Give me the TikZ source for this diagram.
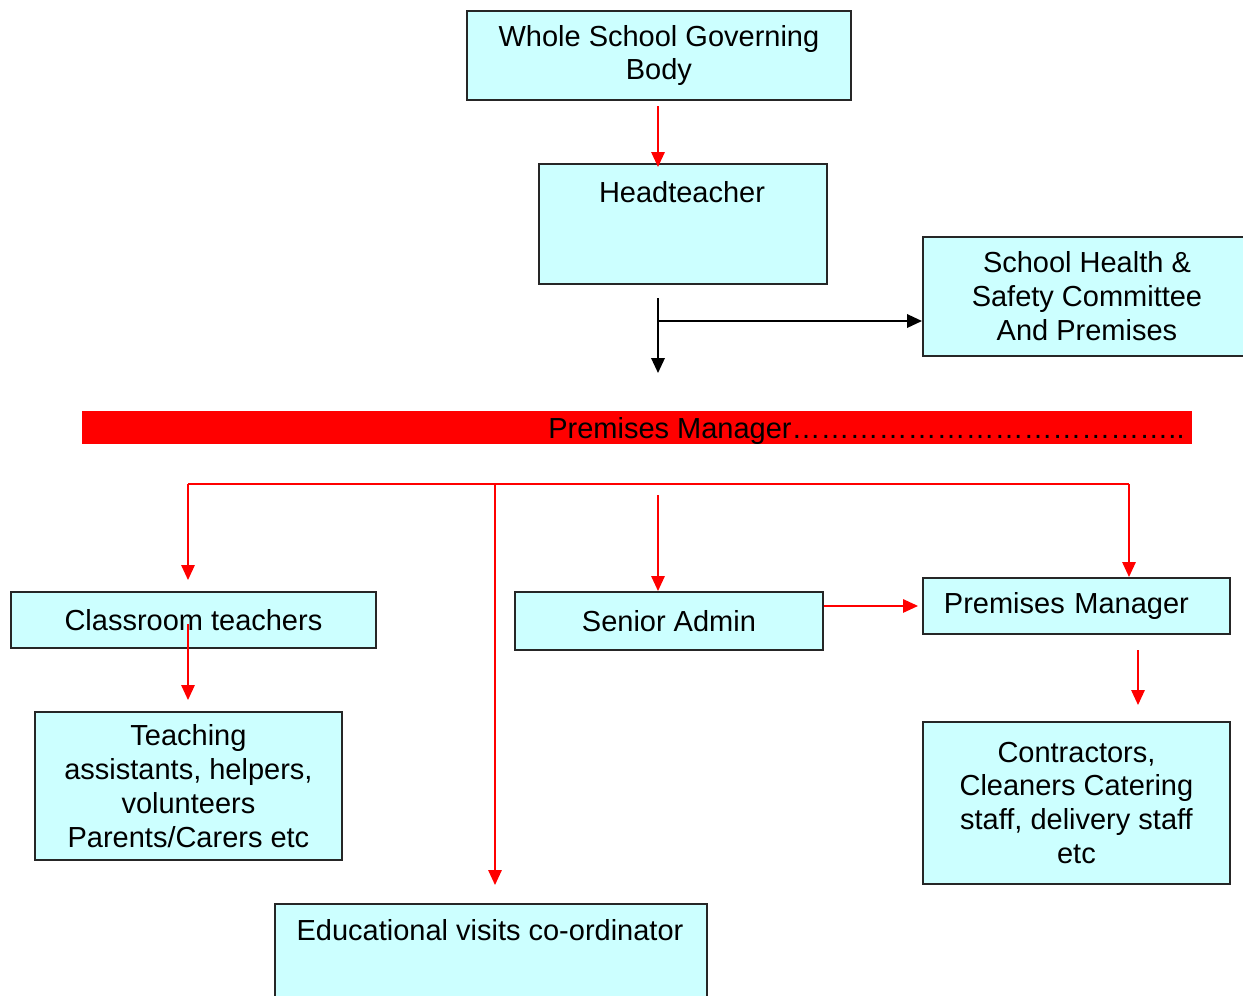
\documentclass[tikz,border=0pt]{standalone}
\usepackage{fontspec}
\setmainfont{Liberation Sans}
\usetikzlibrary{arrows.meta}
\usetikzlibrary{positioning,calc}
\definecolor{paleblue}{HTML}{CCFFFF}

\begin{document}
\begin{tikzpicture}[x=0.02cm,y=-0.02cm]
\tikzset{
    org-box/.style={
        draw=black!85,
        line width=1.1pt,
        fill=paleblue,
        rectangle,
        anchor=north west,
        inner sep=0pt,
        align=center,
        font=\fontsize{16.5pt}{19.3pt}\selectfont,
    },
    box-text/.style={
        inner sep=0pt,
        font=\fontsize{16.5pt}{19.3pt}\selectfont,
    },
    red-link/.style={
        draw=red,
        line width=0.85pt,
        -{Triangle[length=0.3cm,width=0.27cm]}
    },
    red-line/.style={
        draw=red,
        line width=0.85pt
    },
    black-link/.style={
        draw=black,
        line width=1.1pt,
        -{Triangle[length=0.3cm,width=0.27cm]}
    },
}
\useasboundingbox (0,0) rectangle (1243,995);
\clip (0,0) rectangle (1243,995);

% top of the chart
\node[org-box, minimum width=7.68cm, minimum height=1.78cm] (gov) at (466,10) {Whole School Governing\\Body};
\node[org-box, minimum width=5.76cm, minimum height=2.4cm] (head) at (538,163) {};
\node[box-text, anchor=base] (head-text) at (682,202) {Headteacher};
\node[org-box, minimum width=6.56cm, minimum height=2.38cm] (health) at (922,236) {School Health \&\\Safety Committee\\And Premises};

% premises manager bar
\node[fill=red, minimum width=22.2cm, minimum height=0.66cm, anchor=north west, inner sep=0pt] (bar) at (82,411) {};
\node[box-text, anchor=base west] (bar-text) at (548,438) {Premises Manager…………………………………..};

% staff
\node[org-box, minimum width=7.3cm, minimum height=1.12cm] (class) at (10,591) {Classroom teachers};
\node[org-box, minimum width=6.16cm, minimum height=1.16cm] (senior) at (514,591) {Senior Admin};
\node[org-box, minimum width=6.14cm, minimum height=1.12cm, text width=5.3cm, inner xsep=0.42cm, align=left] (pm) at (922,577) {Premises Manager};
\node[org-box, minimum width=6.14cm, minimum height=2.96cm] (teach) at (34,711) {Teaching\\assistants, helpers,\\volunteers\\Parents/Carers etc};
\node[org-box, minimum width=6.14cm, minimum height=3.24cm] (contr) at (922,721) {Contractors,\\Cleaners Catering\\staff, delivery staff\\etc};
\node[org-box, minimum width=8.64cm, minimum height=2.4cm] (edu) at (274,903) {};
\node[box-text, anchor=base] (edu-text) at (490,940) {Educational visits co-ordinator};

% links
\coordinate (gov-out) at (658,106);
\coordinate (head-out) at (658,298);
\coordinate (head-down) at (658,373);
\coordinate (branch) at (658,321);
\coordinate (bus-l) at (188,484);
\coordinate (bus-m) at (495,484);
\coordinate (bus-r) at (1129,484);
\coordinate (sa-in) at (658,495);
\coordinate (ct-out) at (188,624);
\coordinate (pm-out) at (1138,650);

\draw[red-link, shorten >=-0.08cm] (gov-out) -- (gov-out |- head.north);
\draw[black-link] (head-out) -- (head-down);
\draw[black-link] (branch) -- (branch -| health.west);

\draw[red-line] (bus-l) -- (bus-r);
\draw[red-link, shorten >=0.22cm] (bus-l) -- (bus-l |- class.north);
\draw[red-link, shorten >=0.36cm] (bus-m) -- (bus-m |- edu.north);
\draw[red-link] (bus-r) -- (bus-r |- pm.north);
\draw[red-link] (sa-in) -- (sa-in |- senior.north);
\draw[red-link, shorten >=0.22cm] (ct-out) -- (ct-out |- teach.north);
\draw[red-link, shorten >=0.08cm] (pm.west -| senior.east) -- (pm.west);
\draw[red-link, shorten >=0.32cm] (pm-out) -- (pm-out |- contr.north);
\end{tikzpicture}
\end{document}
